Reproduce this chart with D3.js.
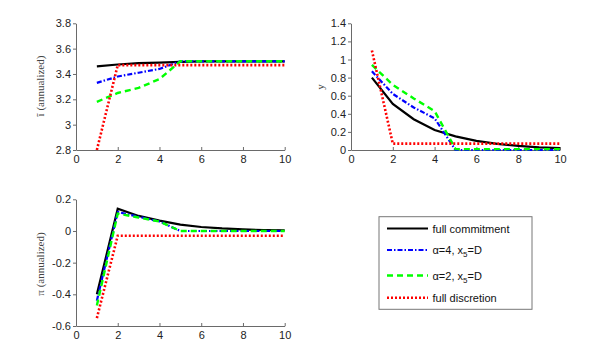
<!DOCTYPE html>
<html><head><meta charset="utf-8">
<script src="https://cdn.jsdelivr.net/npm/d3@7"></script>
<style>body{margin:0;background:#fff}svg{display:block}</style>
</head><body>
<script>
const periods = [1,2,3,4,5,6,7,8,9,10];
const seriesNames = ["full commitment","α=4, x5=D","α=2, x5=D","full discretion"];
// Panel 1: i (annualized)
const iCommit = [3.46,3.475,3.485,3.49,3.495,3.5,3.5,3.5,3.5,3.5];
const iAlpha4 = [3.33,3.38,3.41,3.44,3.5,3.5,3.5,3.5,3.5,3.5];
const iAlpha2 = [3.18,3.25,3.29,3.36,3.5,3.5,3.5,3.5,3.5,3.5];
const iDiscr  = [2.8,3.47,3.47,3.47,3.47,3.47,3.47,3.47,3.47,3.47];
// Panel 2: y
const yCommit = [0.8,0.51,0.34,0.22,0.15,0.1,0.068,0.046,0.03,0.02];
const yAlpha4 = [0.87,0.62,0.47,0.35,0.0,0.0,0.0,0.0,0.0,0.0];
const yAlpha2 = [0.94,0.72,0.57,0.43,0.01,0.01,0.01,0.01,0.01,0.01];
const yDiscr  = [1.1,0.07,0.07,0.07,0.07,0.07,0.07,0.07,0.07,0.07];
// Panel 3: pi (annualized)
const pCommit = [-0.40,0.14,0.095,0.065,0.04,0.025,0.016,0.01,0.006,0.004];
const pAlpha4 = [-0.44,0.12,0.09,0.06,0.0,0.0,0.0,0.0,0.0,0.0];
const pAlpha2 = [-0.47,0.11,0.085,0.06,0.0,0.0,0.0,0.0,0.0,0.0];
const pDiscr  = [-0.55,-0.03,-0.03,-0.03,-0.03,-0.03,-0.03,-0.03,-0.03,-0.03];
const xTicks = [0,2,4,6,8,10];
const iTicks = [2.8,3,3.2,3.4,3.6,3.8];
const yTicks = [0,0.2,0.4,0.6,0.8,1,1.2,1.4];
const pTicks = [-0.6,-0.4,-0.2,0,0.2];

const styles = [
  {color:"#000000", dash:null, w:2.2},
  {color:"#0000ff", dash:"5,2,1.5,2", w:2.2},
  {color:"#00ff00", dash:"6,4", w:2.4},
  {color:"#ff0000", dash:"2,2", w:2.6}
];

const svg = d3.select("body").append("svg").attr("width",600).attr("height",355);

function panel(box, yDomain, yTickVals, seriesList, label, labelX, labelY){
  const x = d3.scaleLinear().domain([0,10]).range([box.l, box.r]);
  const y = d3.scaleLinear().domain(yDomain).range([box.b, box.t]);
  const g = svg.append("g");
  const xa = g.append("g").attr("transform",`translate(0,${box.b})`)
    .call(d3.axisBottom(x).tickValues(xTicks).tickFormat(d3.format("d")).tickSizeInner(-3).tickSizeOuter(0).tickPadding(5));
  const ya = g.append("g").attr("transform",`translate(${box.l},0)`)
    .call(d3.axisLeft(y).tickValues(yTickVals).tickFormat(d=>String(+d.toFixed(1))).tickSizeInner(3).tickSizeOuter(0).tickPadding(2));
  [xa,ya].forEach(a=>{
    a.selectAll("path").attr("stroke","#6a6a6a").attr("stroke-width",1);
    a.selectAll("line").attr("stroke","#6a6a6a");
    a.selectAll("text").attr("font-family","Liberation Sans, Arial, sans-serif").attr("font-size",11).attr("fill","#222");
  });
  const line = d3.line().x((d,i)=>x(periods[i])).y(d=>y(d));
  seriesList.forEach((s,k)=>{
    g.append("path").datum(s).attr("d",line).attr("fill","none")
      .attr("stroke",styles[k].color).attr("stroke-width",styles[k].w)
      .attr("stroke-dasharray",styles[k].dash);
  });
  g.append("text").attr("transform",`translate(${labelX},${labelY}) rotate(-90)`)
    .attr("text-anchor","middle").attr("font-family","Liberation Serif, Times New Roman, serif")
    .attr("font-size",11).attr("fill","#444").text(label);
}

panel({l:76,r:284.7,t:23.3,b:150},[2.8,3.8],iTicks,[iCommit,iAlpha4,iAlpha2,iDiscr],"ĩ (annualized)",44,86);
panel({l:351,r:560,t:23.3,b:150},[0,1.4],yTicks,[yCommit,yAlpha4,yAlpha2,yDiscr],"y",324,87);
panel({l:76,r:284.7,t:199.3,b:326},[-0.6,0.2],pTicks,[pCommit,pAlpha4,pAlpha2,pDiscr],"π (annualized)",44,264);

// legend
const lg = svg.append("g");
lg.append("rect").attr("x",379).attr("y",216.7).attr("width",153).attr("height",92.6)
  .attr("fill","#fff").attr("stroke","#777").attr("stroke-width",1);
const ly = [228.5,250,275.5,297.7];
seriesNames.forEach((name,k)=>{
  lg.append("line").attr("x1",387).attr("x2",428).attr("y1",ly[k]).attr("y2",ly[k])
    .attr("stroke",styles[k].color).attr("stroke-width",styles[k].w).attr("stroke-dasharray",styles[k].dash);
  const t = lg.append("text").attr("x",432.5).attr("y",ly[k]+4)
    .attr("font-family","Liberation Sans, Arial, sans-serif").attr("font-size",11).attr("fill","#111");
  const m = name.match(/^(.*x)(5)(=D)$/);
  if(m){
    t.append("tspan").text(m[1]);
    t.append("tspan").attr("dy",3).attr("font-size",8).text(m[2]);
    t.append("tspan").attr("dy",-3).text(m[3]);
  } else t.text(name);
});
</script>
</body></html>
